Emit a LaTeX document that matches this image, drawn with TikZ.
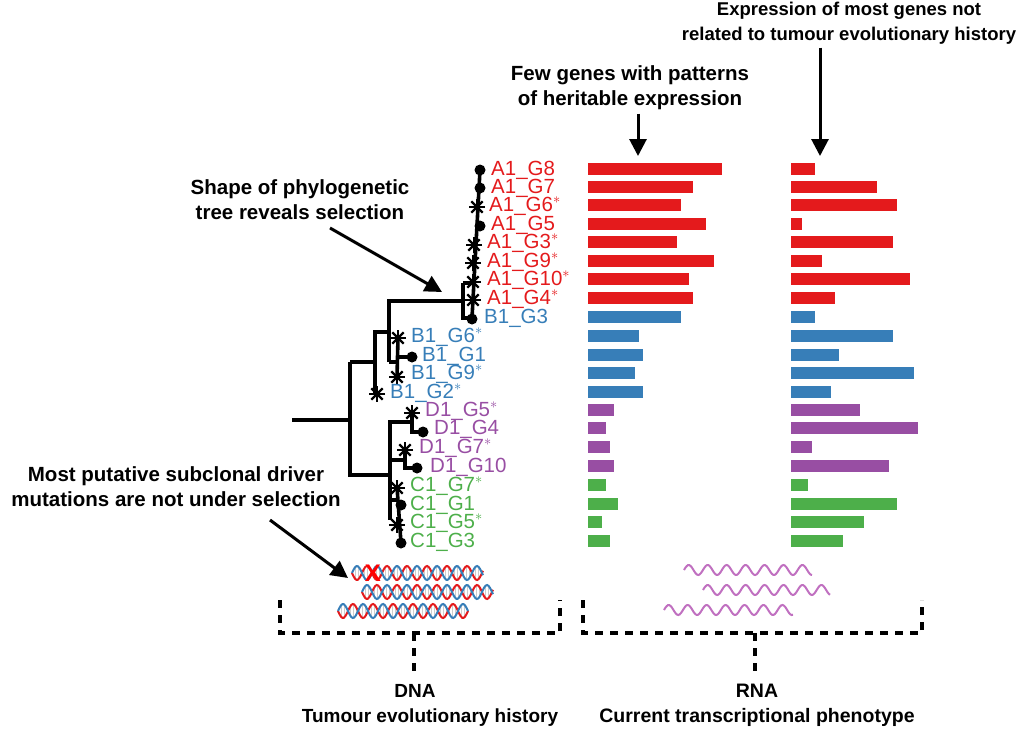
\documentclass[tikz,border=0pt]{standalone}
\usepackage{fontspec}
\setmainfont{Liberation Sans}
\usetikzlibrary{arrows.meta}
\begin{document}
\definecolor{cA}{HTML}{E41A1C}
\definecolor{cB}{HTML}{377EB8}
\definecolor{cD}{HTML}{984EA3}
\definecolor{cC}{HTML}{4DAF4A}
\definecolor{rna}{HTML}{C070C0}
\begin{tikzpicture}[x=1pt,y=-1pt,
  br/.style={line width=3.6pt,black},
  lbl/.style={anchor=west,inner sep=0pt,font=\fontsize{20.5}{20}\selectfont},
  note/.style={align=center,font=\bfseries\fontsize{20.5}{25}\selectfont},
  bar/.style={minimum height=12pt,inner sep=0pt,anchor=west,draw=none},
  arr/.style={line width=3pt,-{Triangle[length=17pt,width=17pt]}},
  dsh/.style={line width=3.2pt,dash pattern=on 8pt off 7pt},
  tip/.style={circle,fill=black,inner sep=0pt,minimum size=11pt},
  st/.style={minimum size=16pt,inner sep=0pt,path picture={
     \foreach \a in {0,45,90,135}{\draw[line width=2.2pt,black] ([shift={(\a:8pt)}]path picture bounding box.center) -- ([shift={(\a+180:8pt)}]path picture bounding box.center);}}}]
\useasboundingbox (0,0) rectangle (1021,736);
% notes
\node[note] (n1) at (300,200) {Shape of phylogenetic\\tree reveals selection};
\node[note] (n2) at (176,487) {Most putative subclonal driver\\mutations are not under selection};
\node[note] (n3) at (630,88) {Few genes with patterns\\of heritable expression};
\node[note,font=\bfseries\fontsize{18.5}{25}\selectfont] (n4) at (849,23) {Expression of most genes not\\related to tumour evolutionary history};
\coordinate (t1) at (442,292); \coordinate (t2) at (348,578);
\coordinate (t3) at (638,156); \coordinate (t4) at (820,156);
\coordinate (f1) at (330,228); \coordinate (f2) at (270,520);
\draw[arr] (f1) -- (t1);
\draw[arr] (f2) -- (t2);
\draw[arr] (n3.south -| t3) -- (t3);
\draw[arr] (n4.south -| t4) -- (t4);
% tree
\draw[br] (292,420) -- (350,420);
\draw[br] (375,330) -- (375,393) (375,332) -- (389,332);
\draw[br] (350,362) -- (375,362);
\draw[br] (350,362) -- (350,475) -- (390,475);
\draw[br] (389,362) -- (389,301) -- (463,301);
\draw[br] (463,283) -- (463,318) -- (472,318);
\draw[br] (463,283) -- (473,283);
\draw[br] (480,170) -- (472,318);
\draw[br] (389,362) -- (397,362);
\draw[br] (398,338) -- (397,377) (397,357) -- (412,357);
\draw[br] (390,420) -- (390,520) (390,422) -- (412,422);
\draw[br] (412,413) -- (412,432) -- (423,432);
\draw[br] (390,460) -- (405,460);
\draw[br] (405,450) -- (405,468) -- (417,468);
\draw[br] (390,500) -- (399,500);
\draw[br] (397,487) -- (401,543);
% tips
\foreach \nm/\px/\py/\s in {a8/480/170/0,a7/480/188/0,a6/477/207/1,a5/480/226/0,a3/474/245/1,a9/473/263/1,a10/473/282/1,a4/473/300/1,b3/472/319/0,
b6/398/338/1,b1/412/357/0,b9/397/377/1,b2/377/394/1,d5/412/413/1,d4/423/432/0,d7/405/450/1,d10/417/468/0,c7/397/488/1,c1/401/505/0,c5/397/525/1,c3/401/543/0}{
  \ifnum\s=0 \node[tip] (p\nm) at (\px,\py) {}; \else \node[st] (p\nm) at (\px,\py) {}; \fi}
% labels and bars
\foreach \nm/\t/\c/\lx/\ly/\ea/\eb in {
a8/A1\_G8/cA/491/170/722/815, a7/A1\_G7/cA/491/188/693/877, a6/A1\_G6$^*$/cA/489/206/681/897, a5/A1\_G5/cA/491/225/706/802,
a3/A1\_G3$^*$/cA/487/243/677/893, a9/A1\_G9$^*$/cA/487/262/714/822, a10/A1\_G10$^*$/cA/487/280/689/910, a4/A1\_G4$^*$/cA/487/299/693/835,
b3/B1\_G3/cB/484/318/681/815, b6/B1\_G6$^*$/cB/411/337/639/893, b1/B1\_G1/cB/422/356/643/839, b9/B1\_G9$^*$/cB/411/374/635/914,
b2/B1\_G2$^*$/cB/390/393/643/831, d5/D1\_G5$^*$/cD/425/411/614/860, d4/D1\_G4/cD/434/429/606/918, d7/D1\_G7$^*$/cD/419/448/610/812,
d10/D1\_G10/cD/430/467/614/889, c7/C1\_G7$^*$/cC/410/486/606/808, c1/C1\_G1/cC/410/505/618/897, c5/C1\_G5$^*$/cC/410/523/602/864,
c3/C1\_G3/cC/410/542/610/843}{
  \node[lbl,text=\c] (l\nm) at (\lx,\ly) {\t};
  \node[bar,fill=\c,minimum width={\ea-588}] (x\nm) at (588,\ly-1) {};
  \node[bar,fill=\c,minimum width={\eb-791}] (y\nm) at (791,\ly-1) {};
}
% DNA helices
\foreach \xo/\yo/\len in {352/573/131, 362/592/131, 338/611/130}{
  \foreach \k in {0,3,...,\len}{\draw[gray!40,line width=0.7pt] ({\xo+\k},{\yo+6*sin(\k*18)}) -- ({\xo+\k},{\yo-6*sin(\k*18)});}
  \draw[cA,line width=2pt] plot[domain=0:\len,samples=90] ({\xo+\x},{\yo+7*sin(\x*18)});
  \draw[cB,line width=2pt] plot[domain=0:\len,samples=90] ({\xo+\x},{\yo-7*sin(\x*18)});
}
\node[text=red,font=\bfseries\fontsize{24}{24}\selectfont,inner sep=0pt] (xx) at (373,573) {X};
% RNA
\foreach \xo/\yo/\len in {684/570/128, 703/590/127, 664/610/129}{
  \draw[rna,line width=2pt] plot[domain=0:\len,samples=100] ({\xo+\x},{\yo-5*sin(\x*19)});
}
% dashed brackets
\draw[dsh] (280,600) -- (280,633) -- (560,633) -- (560,600);
\draw[dsh] (583,600) -- (583,633) -- (922,633) -- (922,600);
\node[note,font=\bfseries\fontsize{19}{25}\selectfont] (dna) at (430,705) {\makebox[0pt]{\hspace*{-30pt}DNA}\\Tumour evolutionary history};
\node[note,font=\bfseries\fontsize{19.5}{25}\selectfont] (rnal) at (757,705) {RNA\\Current transcriptional phenotype};
\coordinate (s1) at (414,633); \coordinate (s2) at (755,633);
\draw[dsh] (s1) -- (414,675);
\draw[dsh] (s2) -- (755,675);
\end{tikzpicture}
\end{document}
